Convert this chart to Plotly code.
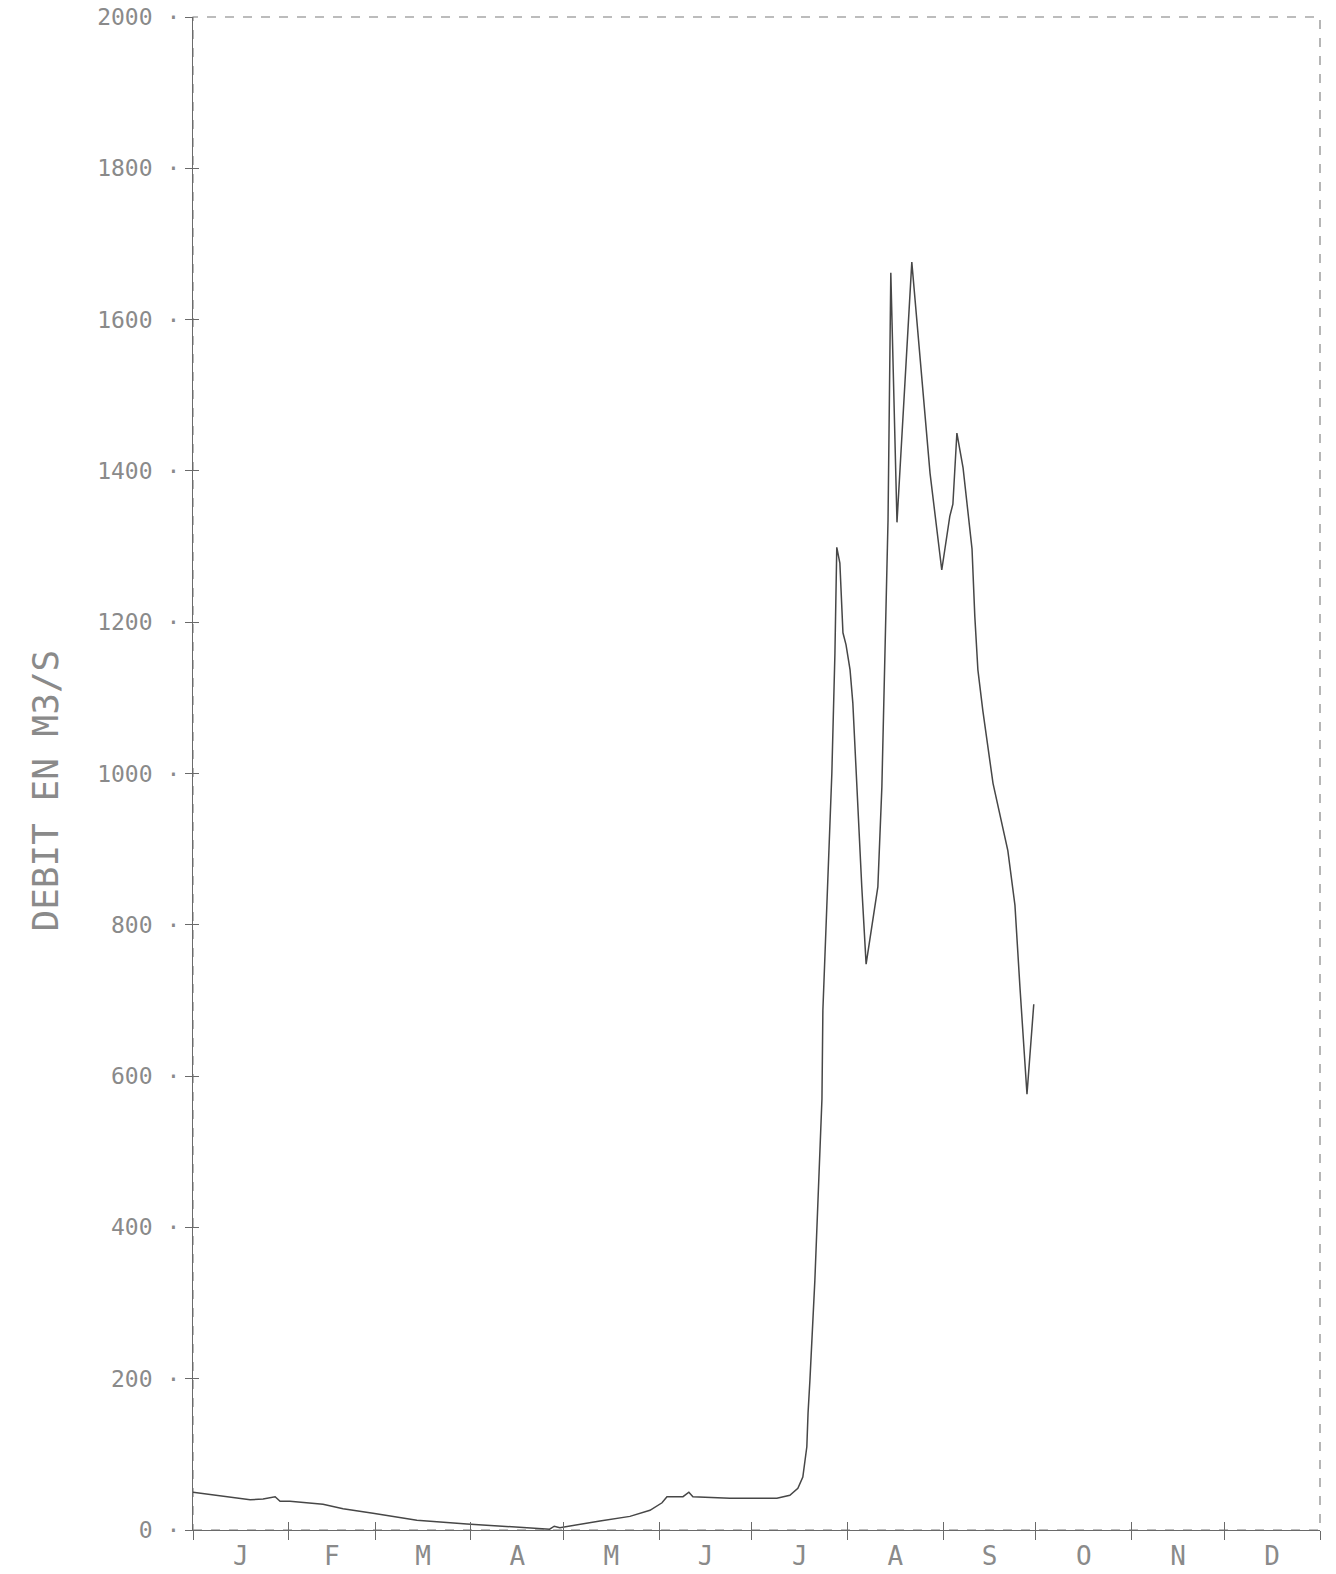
import plotly.graph_objects as go

# Daily discharge (m3/s) by day of year
days = [0, 18.5, 22.7, 26.6, 28.2, 31.4, 42.1, 48.6, 58.3, 72.5, 88.7, 104.9, 113.3,
        115.5, 117.0, 118.8, 131.8, 141.5, 148.0, 151.9, 153.5, 158.7, 160.6, 161.9,
        173.9, 189.1, 193.3, 195.9, 197.5, 198.8, 199.2, 199.8, 201.4, 202.7, 203.7,
        204.0, 205.6, 206.9, 207.9, 208.5, 209.5, 210.5, 211.5, 212.8, 213.7, 215.0,
        216.6, 218.0, 220.2, 221.8, 223.1, 224.1, 225.1, 226.0, 228.0, 232.8, 236.4,
        238.7, 242.5, 245.1, 246.1, 247.4, 249.4, 252.3, 253.2, 254.2, 255.8, 259.1,
        263.9, 266.2, 267.8, 269.4, 270.1, 272.3]
flow = [50, 40, 41, 44, 38, 38, 34, 28, 22, 13, 8, 4, 2,
        1, 5, 3, 12, 18, 26, 36, 44, 44, 50, 44,
        42, 42, 46, 55, 70, 110, 155, 198, 330, 480, 570,
        687, 860, 1000, 1159, 1299, 1278, 1186, 1170, 1137, 1093, 982,
        850, 748, 806, 850, 982, 1159, 1335, 1662, 1332, 1676, 1507,
        1397, 1269, 1340, 1356, 1450, 1404, 1297, 1208, 1137, 1083, 987,
        898, 826, 719, 612, 576, 695]

month_bounds = [0, 31, 59, 90, 120, 151, 181, 212, 243, 273, 304, 334, 365]
month_labels = ["J", "F", "M", "A", "M", "J", "J", "A", "S", "O", "N", "D"]
month_centers = [(a + b) / 2 for a, b in zip(month_bounds[:-1], month_bounds[1:])]

y_ticks = list(range(0, 2001, 200))
y_ticktext = [f"{v} ·" for v in y_ticks]

FONT = "DejaVu Sans Mono"
TXT = "#8a8a8a"
AX = "#6a6a6a"

fig = go.Figure()
fig.add_trace(go.Scatter(x=days, y=flow, mode="lines",
                         line=dict(color="#474747", width=1.5),
                         showlegend=False, hoverinfo="skip"))
# empty trace so the overlay axes (inner halves of the tick crosses) get drawn
fig.add_trace(go.Scatter(x=[None], y=[None], xaxis="x2", yaxis="y2",
                         showlegend=False, hoverinfo="skip"))

fig.update_layout(
    width=1336, height=1574,
    margin=dict(l=193, r=16, t=17, b=44),
    paper_bgcolor="white", plot_bgcolor="white",
    xaxis=dict(range=[0, 365], tickmode="array", tickvals=month_centers,
               ticktext=month_labels, ticks="", showgrid=False, zeroline=False,
               showline=True, linecolor=AX, linewidth=1.3, mirror=False,
               automargin=False, ticklabelstandoff=3,
               tickfont=dict(family=FONT, size=26, color=TXT),
               minor=dict(tickmode="array", tickvals=month_bounds, ticks="outside",
                          ticklen=9, tickcolor=AX, tickwidth=1.2, showgrid=False)),
    yaxis=dict(range=[0, 2000], tickmode="array", tickvals=y_ticks,
               ticktext=y_ticktext, ticks="outside", ticklen=7, tickcolor=AX,
               tickwidth=1.2, showgrid=False, zeroline=False, showline=True,
               linecolor=AX, linewidth=1.3, automargin=False,
               tickfont=dict(family=FONT, size=23, color=TXT)),
    xaxis2=dict(overlaying="x", anchor="y", side="bottom", range=[0, 365],
                tickmode="array", tickvals=month_bounds, ticks="inside",
                ticklen=8, tickcolor=AX, tickwidth=1.2, showticklabels=False,
                showgrid=False, zeroline=False, showline=False, automargin=False),
    yaxis2=dict(overlaying="y", anchor="x", side="left", range=[0, 2000],
                tickmode="array", tickvals=y_ticks, ticks="inside",
                ticklen=6, tickcolor=AX, tickwidth=1.2, showticklabels=False,
                showgrid=False, zeroline=False, showline=False, automargin=False),
    shapes=[dict(type="rect", xref="paper", yref="paper", x0=0, x1=1, y0=0, y1=1,
                 line=dict(color="#7a7a7a", width=1.1, dash="dash"), layer="below")],
    annotations=[dict(text="DEBIT EN M3/S", xref="paper", yref="paper",
                      x=-0.131, y=0.489, xanchor="center", yanchor="middle",
                      textangle=-90, showarrow=False,
                      font=dict(family=FONT, size=36, color=TXT))],
)

fig.write_html("out.html")
